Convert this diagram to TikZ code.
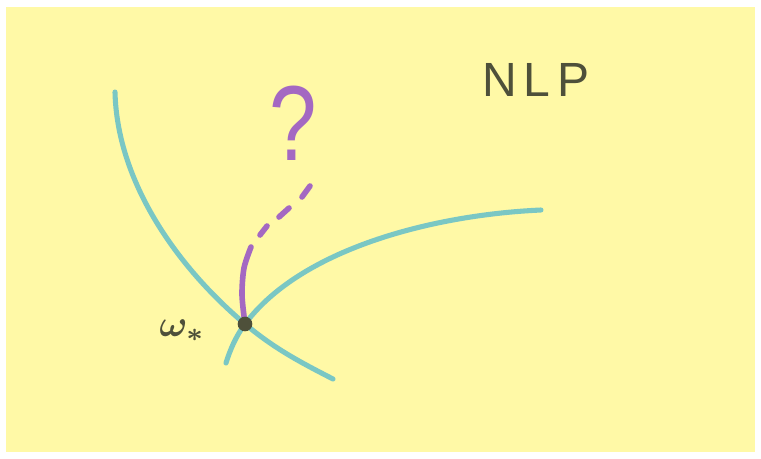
\documentclass[tikz,border=0pt]{standalone}
\usepackage{fontspec}
\setmainfont{Liberation Sans}
\usetikzlibrary{positioning}
\definecolor{paper}{RGB}{255,249,166}
\definecolor{feas}{RGB}{122,199,196}
\definecolor{path}{RGB}{164,104,194}
\definecolor{ink}{RGB}{78,80,58}

\begin{document}
\begin{tikzpicture}[x=0.75pt, y=-0.75pt,
  cons/.style={draw=feas, line width=3.8pt, line cap=round},
  traj/.style={draw=path, line width=4.2pt, line cap=round},
  dot/.style={circle, fill=ink, minimum size=11pt, inner sep=0pt},
  lab/.style={text=ink, inner sep=0pt}]
\useasboundingbox (0,0) rectangle (761,458);
\fill[paper] (6,7) rectangle (755,452);
\coordinate (opt) at (245,324);
\draw[cons] (115,92) .. controls (117,180) and (175,265) .. (opt)
  .. controls (275,349) and (300,362) .. (333,379);
\draw[cons] (226,363) .. controls (230,350) and (236,336) .. (opt)
  .. controls (300,250) and (430,215) .. (541,210);
\draw[traj] plot[smooth] coordinates {(245,324) (242,295) (244,268) (251,247)};
\foreach \a/\b in {{(260,235)}/{(267,226)}, {(279,217)}/{(289,208)}, {(302,197)}/{(310,186)}}
  \draw[traj] \a -- \b;
\node[dot] (wopt) at (opt) {};
\node[lab, left=24pt of wopt, yshift=-5pt] (wlab) {\scalebox{2.8}{\boldmath$\omega_*$}};
\node[text=path, inner sep=0pt] (ask) at (293,123) {\fontsize{80}{80}\selectfont\scalebox{0.8}[1]{?}};
\node[lab] (nlp) at (536,80) {\fontsize{36}{36}\selectfont N\kern5pt L\kern5pt P};
\end{tikzpicture}
\end{document}
